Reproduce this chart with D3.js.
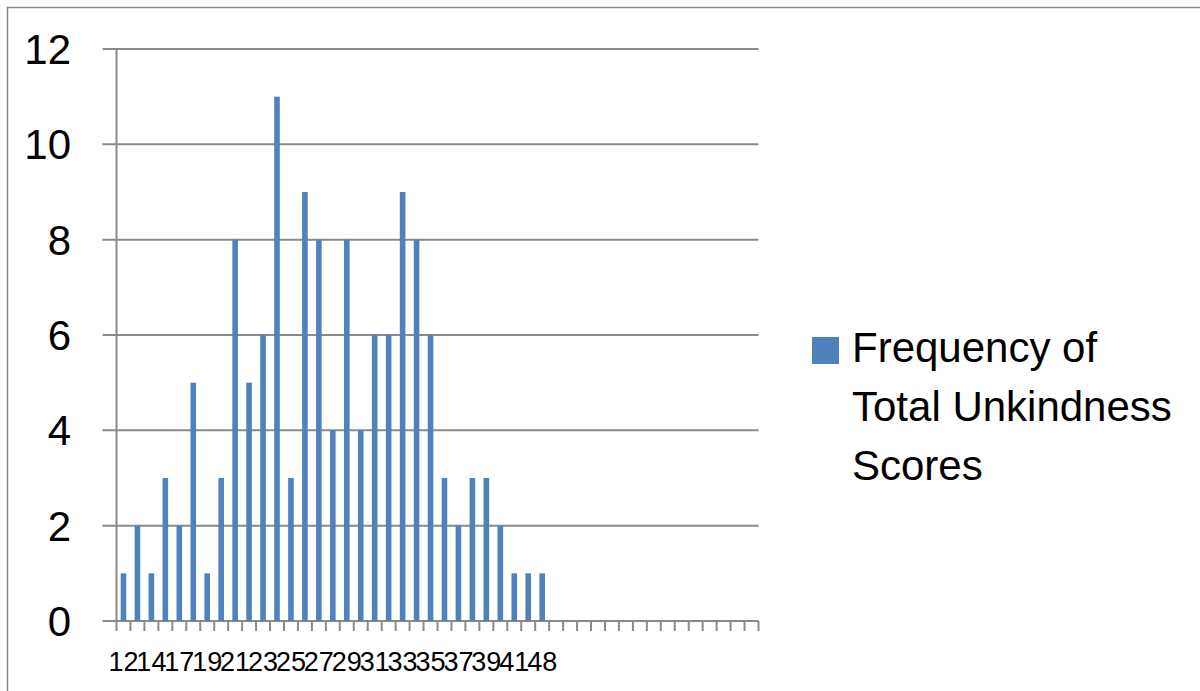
<!DOCTYPE html>
<html>
<head>
<meta charset="utf-8">
<script src="https://cdn.jsdelivr.net/npm/d3@7"></script>
<style>
  html, body { margin: 0; padding: 0; background: #fff; }
  svg { display: block; }
  text { font-family: "Liberation Sans", Arial, sans-serif; fill: #000; }
</style>
</head>
<body>
<svg id="chart" width="1200" height="691"></svg>
<script>
// ---- data ----
const categories = ["12","13","14","16","17","18","19","20","21","22","23","24","25","26","27","28",
  "29","30","31","32","33","34","35","36","37","38","39","40","41","44","48",
  "","","","","","","","","","","","","","",""];
const frequency = [1,2,1,3,2,5,1,3,8,5,6,11,3,9,8,4,8,4,6,6,9,8,6,3,2,3,3,2,1,1,1,
  null,null,null,null,null,null,null,null,null,null,null,null,null,null,null];
const yTicks = [0,2,4,6,8,10,12];
const seriesName = ["Frequency of", "Total Unkindness", "Scores"];

// ---- layout ----
const svg = d3.select("#chart");
const plotLeft = 116.5, plotRight = 758.5, plotTop = 49, plotBottom = 621;
const gridColor = "#8a8a8a";
const barColor = "#4F81BD";

// outer border
svg.append("rect").attr("x", 7.5).attr("y", 7.5).attr("width", 1210).attr("height", 700)
  .attr("fill", "none").attr("stroke", gridColor).attr("stroke-width", 1.5);

const idx = d3.range(categories.length);
const x = d3.scaleBand().domain(idx).range([plotLeft, plotRight]).padding(0);
const y = d3.scaleLinear().domain([0, 12]).range([plotBottom, plotTop]);

// gridlines + y ticks
svg.append("g").selectAll("line").data(yTicks).join("line")
  .attr("x1", plotLeft - 14).attr("x2", plotRight)
  .attr("y1", d => y(d)).attr("y2", d => y(d))
  .attr("stroke", gridColor).attr("stroke-width", 2);

// y axis line
svg.append("line").attr("x1", plotLeft).attr("x2", plotLeft).attr("y1", plotTop).attr("y2", plotBottom + 10)
  .attr("stroke", gridColor).attr("stroke-width", 2);

// x tick marks at category boundaries
const bounds = idx.map(i => x(i)).concat([x(idx[idx.length - 1]) + x.bandwidth()]);
svg.append("g").selectAll("line").data(bounds.slice(1)).join("line")
  .attr("x1", d => d).attr("x2", d => d)
  .attr("y1", plotBottom).attr("y2", plotBottom + 10)
  .attr("stroke", gridColor).attr("stroke-width", 2);

// y labels
svg.append("g").selectAll("text").data(yTicks).join("text")
  .attr("x", 71).attr("y", d => y(d)).attr("dy", "0.36em")
  .attr("text-anchor", "end").attr("font-size", 42)
  .text(d => d);

// bars
const bw = x.bandwidth();
svg.append("g").selectAll("rect").data(idx.filter(i => frequency[i] != null)).join("rect")
  .attr("x", i => x(i) + bw * 0.3).attr("width", bw * 0.4)
  .attr("y", i => y(frequency[i])).attr("height", i => y(0) - y(frequency[i]))
  .attr("fill", barColor);

// x labels (every other category shown)
svg.append("g").selectAll("text").data(idx.filter(i => i % 2 === 0 && categories[i] !== "")).join("text")
  .attr("x", i => x(i) + bw / 2).attr("y", 671)
  .attr("text-anchor", "middle").attr("font-size", 27)
  .text(i => categories[i]);

// legend
svg.append("rect").attr("x", 812).attr("y", 337).attr("width", 27).attr("height", 27).attr("fill", barColor);
svg.append("g").selectAll("text").data(seriesName).join("text")
  .attr("x", 852).attr("y", (d, i) => 362 + i * 59)
  .attr("font-size", 42)
  .text(d => d);
</script>
</body>
</html>
